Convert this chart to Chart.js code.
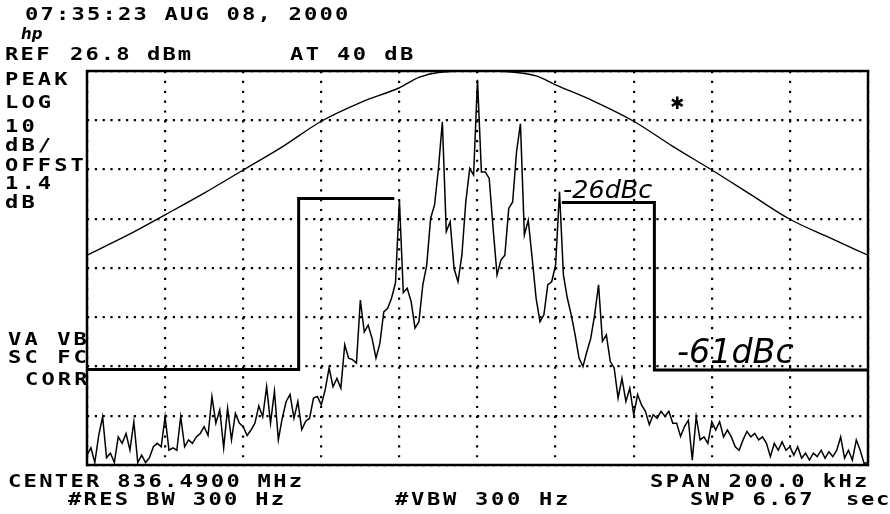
<!DOCTYPE html>
<html>
<head>
<meta charset="utf-8">
<script src="https://cdn.jsdelivr.net/npm/chart.js@4.4.0/dist/chart.umd.min.js"></script>
<style>
  html, body { margin: 0; padding: 0; background: #fff; }
  canvas { display: block; }
</style>
</head>
<body>
<canvas id="scope" width="890" height="514"></canvas>
<script>
// sweep bins: offset from center 836.49 MHz, in kHz (span 200 kHz)
const traceKHz = Array.from({ length: 201 }, (_, i) => i - 100)
// trace A, dB below ref level (10 dB/div)
const traceDb = [
  -78, -76.5, -79.5, -74, -70.2, -78.5, -77.6, -79.5, -74.3, -75.6,
  -73.6, -77, -71.2, -79.5, -78, -79.5, -78.5, -76.3, -75.6, -76.3,
  -70.2, -77, -76.5, -77, -70.2, -76.3, -74.9, -75.6, -74.3, -73.6,
  -72.2, -74, -66.1, -71.5, -68.8, -76.5, -68.5, -74.9, -69.5, -71.5,
  -72.2, -74, -72.9, -71.5, -68, -70.2, -64.1, -71.5, -65, -74.9,
  -70.5, -67.1, -65.7, -70.5, -67.1, -72.8, -71.1, -70.5, -66.4, -66.1,
  -67.8, -64.7, -60.3, -64.1, -62.4, -64.4, -55.6, -58.3, -58.6, -59.3,
  -46.5, -53, -51.6, -54.3, -58.3, -55.3, -48.9, -48.2, -46.1, -43,
  -26.2, -45, -44.1, -46.8, -52.2, -50.9, -43.4, -39.4, -29.9, -27.2,
  -19.8, -10.3, -32.6, -30.6, -40.1, -42.8, -37.4, -26.6, -19.8, -21.1,
  -1.8,
  -20.5, -20.5, -21.8, -32, -41.4, -38.4, -37.4, -27.9, -26.6, -16.4,
  -10.7, -33.3, -30.3, -38, -46.1, -50.9, -49.5, -43.4, -42.8, -39.4,
  -24.5, -41.4, -46.1, -49.5, -53.6, -58.3, -60, -57, -54.3, -49.5,
  -43.4, -54.9, -53.6, -59, -60.3, -66.4, -62.4, -67.1, -64.4, -69.8,
  -65.7, -67.8, -69.1, -71.8, -69.8, -70.5, -69.1, -70.1, -69.1, -71.5,
  -71.5, -74.2, -72.2, -70.9, -79, -70.2, -74.9, -74.3, -75.6, -71.2,
  -72.9, -71.2, -74.3, -72.9, -74.3, -76.3, -77, -74.9, -73.2, -74.3,
  -73.6, -74.9, -74.3, -75.6, -78.3, -75.6, -77, -75.3, -77, -76.3,
  -78, -76.3, -78.6, -77.6, -79, -77.6, -78.3, -77, -78.6, -77.3,
  -78.3, -77, -74.3, -78.6, -77, -79, -74.9, -77, -79.7, -79.5
]
// trace B (smooth correction curve)
const curveKHz = [-100, -90, -80, -70, -60, -50, -40, -30, -20, -15, -10, 0,
  10, 15, 20, 30, 40, 50, 60, 70, 80, 90, 100]
const curveDb = [-37.4, -33.5, -29.2, -24.8, -20.1, -15.4, -10.2, -6.4, -3.4, -1.3, -0.3, 0,
  -0.3, -1.0, -2.8, -6.2, -10.2, -15.3, -20.1, -25.1, -30.1, -33.8, -37.4]
// emission mask limit lines
const maskLeftKHz = [-100, -45.8, -45.8, -21.3]
const maskLeftDb = [-60.6, -60.6, -25.9, -25.9]
const maskRightKHz = [21.6, 45.3, 45.3, 100]
const maskRightDb = [-26.7, -26.7, -60.7, -60.7]

const pairs = (xs, ys) => xs.map((x, i) => ({ x: x, y: ys[i] }))

const hpText = [
  ["07:35:23 AUG 08, 2000", 25, 20, 15.5],
  ["REF", 5, 60, 15.6],
  ["26.8 dBm", 70, 60, 15.4],
  ["AT 40 dB", 290, 60, 15.7],
  ["PEAK", 5, 85, 16.4],
  ["LOG", 5, 108, 16.4],
  ["10", 5, 132, 16.4],
  ["dB/", 5, 151, 16.4],
  ["OFFST", 5, 171, 16.4],
  ["1.4", 5, 189, 16.4],
  ["dB", 5, 208, 16.4],
  ["VA VB", 8, 345, 16.4],
  ["SC FC", 8, 363, 16.4],
  ["CORR", 25, 385, 16.4],
  ["CENTER 836.4900 MHz", 8, 487, 15.6],
  ["SPAN 200.0 kHz", 650, 487, 15.7],
  ["#RES BW 300 Hz", 68, 505, 15.6],
  ["#VBW 300 Hz", 395, 505, 16],
  ["SWP 6.67", 690, 505, 15.6],
  ["sec", 846, 505, 15]
]

const screenText = {
  id: 'screenText',
  beforeDraw(chart) {
    const c = chart.ctx
    c.save()
    c.fillStyle = '#fff'
    c.fillRect(0, 0, chart.width, chart.height)
    c.restore()
  },
  afterDraw(chart) {
    const c = chart.ctx, a = chart.chartArea
    c.save()
    // frame round the graticule
    c.strokeStyle = '#000'
    c.lineWidth = 2.5
    c.strokeRect(a.left, a.top, a.right - a.left, a.bottom - a.top)

    c.fillStyle = '#000'
    c.textBaseline = 'alphabetic'
    c.font = 'bold 17px "DejaVu Sans Mono"'
    for (const [str, x, y, pitch] of hpText) {
      for (let i = 0; i < str.length; i++) {
        c.save()
        c.translate(x + i * pitch, y)
        c.scale(1.3, 1)
        c.fillText(str[i], 0, 0)
        c.restore()
      }
    }
    // hp logo
    c.font = 'italic bold 15px "DejaVu Sans"'
    c.fillText("hp", 21, 39)

    // marker star
    c.font = 'bold 17px "DejaVu Sans"'
    c.textAlign = 'center'
    c.fillText("\u2731", 677, 109)

    // hand-written notes
    c.textAlign = 'left'
    c.font = 'italic 25px "DejaVu Sans"'
    c.save()
    c.translate(563, 198)
    c.scale(1.02, 1)
    c.fillText("-26dBc", 0, 0)
    c.restore()
    c.font = 'italic 34px "DejaVu Sans"'
    c.save()
    c.translate(677, 363)
    c.scale(0.98, 1)
    c.fillText("-61dBc", 0, 0)
    c.restore()
    c.restore()
  }
}

const ctx = document.getElementById('scope').getContext('2d')
const scope = new Chart(ctx, {
  type: 'line',
  data: {
    datasets: [{
      label: 'trace A',
      data: pairs(traceKHz, traceDb),
      borderColor: '#000',
      borderWidth: 1.5,
      pointRadius: 0,
      tension: 0
    }, {
      label: 'trace B',
      data: pairs(curveKHz, curveDb),
      borderColor: '#000',
      borderWidth: 1.4,
      pointRadius: 0,
      cubicInterpolationMode: 'monotone'
    }, {
      label: 'mask left',
      data: pairs(maskLeftKHz, maskLeftDb),
      borderColor: '#000',
      borderWidth: 3,
      pointRadius: 0,
      tension: 0
    }, {
      label: 'mask right',
      data: pairs(maskRightKHz, maskRightDb),
      borderColor: '#000',
      borderWidth: 3,
      pointRadius: 0,
      tension: 0
    }]
  },
  options: {
    responsive: false,
    animation: false,
    devicePixelRatio: 1,
    layout: { padding: { left: 87, top: 71, right: 22, bottom: 49 } },
    plugins: { legend: { display: false }, tooltip: { enabled: false } },
    scales: {
      x: {
        type: 'linear', min: -100, max: 100,
        ticks: { display: false, stepSize: 20 },
        grid: { color: '#000', lineWidth: 2.2, drawTicks: false },
        border: { display: false, dash: [2.2, 7.65] },
        afterFit: s => { s.height = 0 }
      },
      y: {
        type: 'linear', min: -80, max: 0,
        ticks: { display: false, stepSize: 10 },
        grid: { color: '#000', lineWidth: 2.2, drawTicks: false },
        border: { display: false, dash: [2.2, 5.6] },
        afterFit: s => { s.width = 0 }
      }
    }
  },
  plugins: [screenText]
})
</script>
</body>
</html>
